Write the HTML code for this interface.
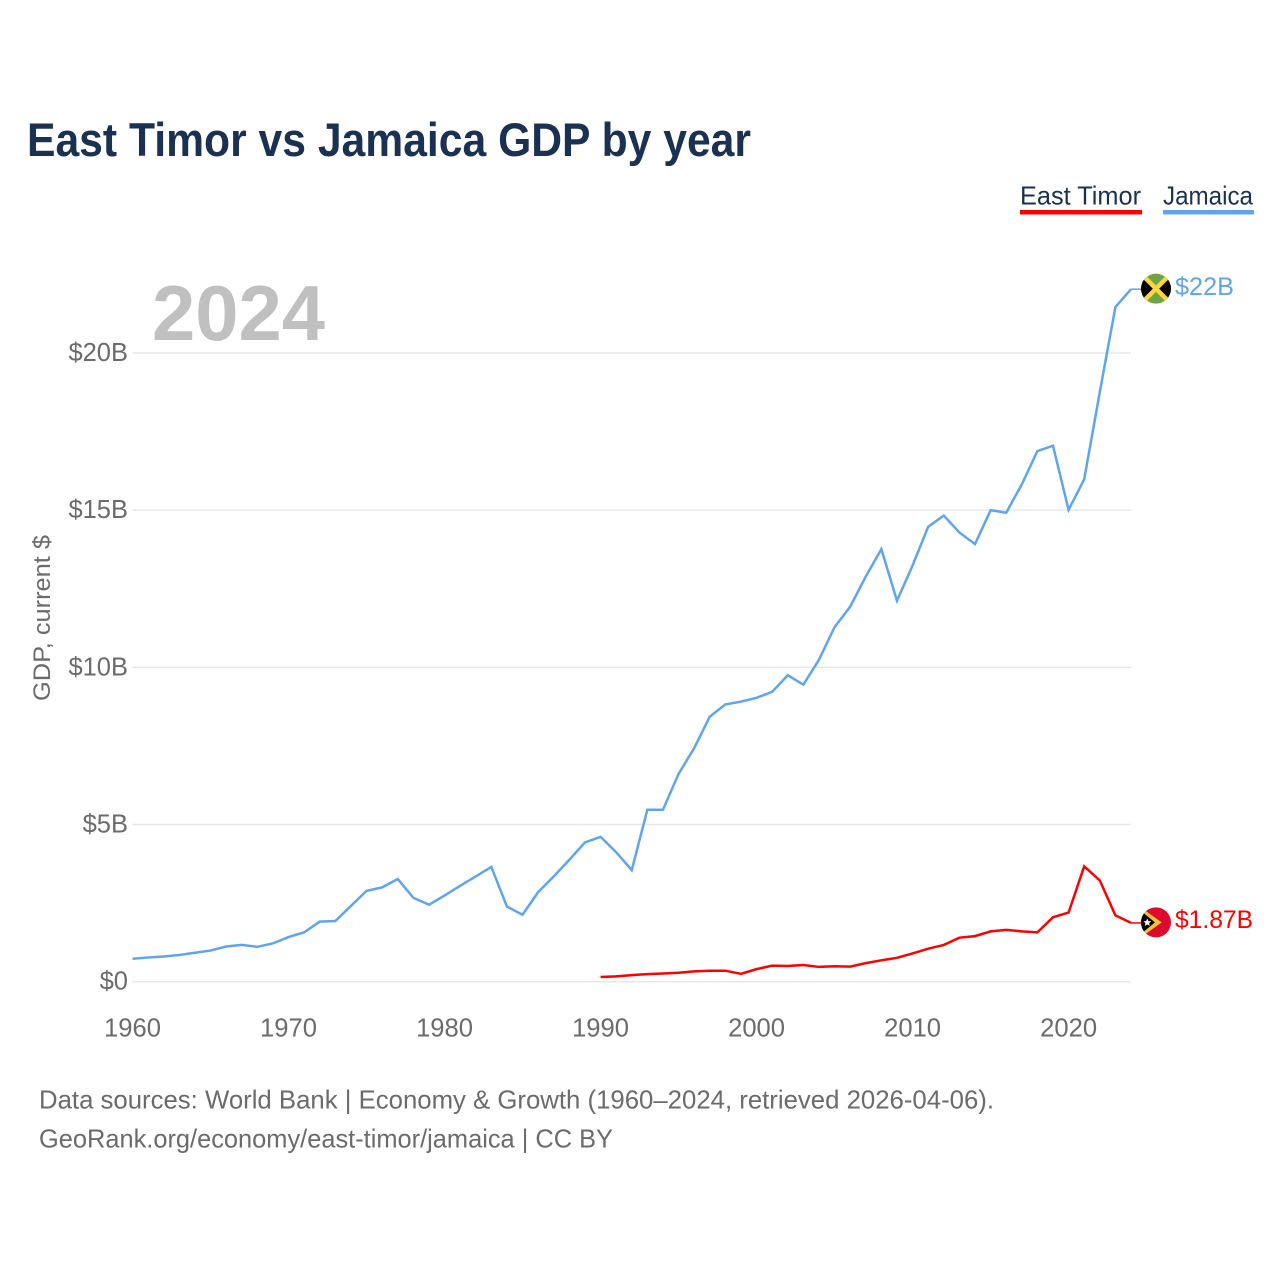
<!DOCTYPE html>
<html lang="en">
<head>
<meta charset="utf-8">
<title>East Timor vs Jamaica GDP by year</title>
<style>
html,body{margin:0;padding:0;background:#fff;width:1280px;height:1280px;overflow:hidden}
svg{display:block}
text{font-family:"Liberation Sans",sans-serif}
</style>
</head>
<body>
<svg id="chart" xmlns="http://www.w3.org/2000/svg" width="1280" height="1280" viewBox="0 0 1280 1280">
  <defs>
    <clipPath id="flag-clip"><circle cx="0" cy="0" r="15"/></clipPath>
  </defs>
  <rect width="1280" height="1280" fill="#fff"/>
  <text x="27" y="156" font-size="47" font-weight="700" fill="#1a3152" textLength="724" lengthAdjust="spacingAndGlyphs">East Timor vs Jamaica GDP by year</text>

  <g>
    <text x="1020" y="204.5" font-size="26" fill="#1a3152" textLength="121" lengthAdjust="spacingAndGlyphs">East Timor</text>
    <rect x="1020" y="210" width="122" height="4.5" fill="#ff0000"/>
  </g>
  <g>
    <text x="1163" y="204.5" font-size="26" fill="#1a3152" textLength="90" lengthAdjust="spacingAndGlyphs">Jamaica</text>
    <rect x="1163" y="210" width="91" height="4.5" fill="#60a5ec"/>
  </g>

  <text x="152" y="340" font-size="78" font-weight="700" fill="#c0c0c0" textLength="173" lengthAdjust="spacingAndGlyphs">2024</text>

  <text transform="translate(50,701) rotate(-90)" x="0" y="0" font-size="24" fill="#6b6b6b" textLength="166" lengthAdjust="spacingAndGlyphs">GDP, current $</text>

  <g id="grid"></g>
  <g id="yticks"></g>
  <g id="xticks"></g>
  <g id="series"></g>
  <g id="markers"></g>

  <text x="39" y="1108.5" font-size="26" fill="#6b6b6b" textLength="955" lengthAdjust="spacingAndGlyphs">Data sources: World Bank | Economy &amp; Growth (1960–2024, retrieved 2026-04-06).</text>
  <text x="39" y="1147.5" font-size="26" fill="#6b6b6b" textLength="574" lengthAdjust="spacingAndGlyphs">GeoRank.org/economy/east-timor/jamaica | CC BY</text>
</svg>
<script>
const years = [1960,1961,1962,1963,1964,1965,1966,1967,1968,1969,
  1970,1971,1972,1973,1974,1975,1976,1977,1978,1979,
  1980,1981,1982,1983,1984,1985,1986,1987,1988,1989,
  1990,1991,1992,1993,1994,1995,1996,1997,1998,1999,
  2000,2001,2002,2003,2004,2005,2006,2007,2008,2009,
  2010,2011,2012,2013,2014,2015,2016,2017,2018,2019,
  2020,2021,2022,2023,2024];
const jamaicaGdp = [0.73,0.77,0.80,0.85,0.92,0.99,1.12,1.17,1.11,1.22,
  1.42,1.57,1.91,1.93,2.41,2.89,3.00,3.27,2.67,2.45,
  2.74,3.05,3.35,3.65,2.39,2.13,2.85,3.35,3.88,4.43,
  4.61,4.12,3.55,5.47,5.47,6.61,7.43,8.43,8.82,8.91,
  9.03,9.22,9.75,9.45,10.24,11.28,11.93,12.89,13.76,12.12,
  13.24,14.47,14.83,14.29,13.92,15.00,14.92,15.82,16.88,17.05,
  15.01,15.98,18.76,21.46,22.03];
const eastTimorGdp = [null,null,null,null,null,null,null,null,null,null,
  null,null,null,null,null,null,null,null,null,null,
  null,null,null,null,null,null,null,null,null,null,
  0.15,0.17,0.21,0.24,0.26,0.285,0.33,0.35,0.35,0.25,
  0.40,0.51,0.50,0.53,0.47,0.49,0.48,0.59,0.68,0.76,
  0.90,1.05,1.17,1.40,1.45,1.60,1.65,1.60,1.57,2.05,
  2.20,3.67,3.22,2.11,1.87];
const xTickYears = [1960,1970,1980,1990,2000,2010,2020];
const xTickLabels = ["1960","1970","1980","1990","2000","2010","2020"];
const yTickValues = [0,5,10,15,20];
const yTickLabels = ["$0","$5B","$10B","$15B","$20B"];
const jamaicaEndLabel = "$22B";
const eastTimorEndLabel = "$1.87B";

const NS = "http://www.w3.org/2000/svg";
const plotLeft = 132.5, plotRight = 1131, plotBottom = 981.7, plotTop = 353;
const firstYear = years[0], lastYear = years[years.length - 1];
function xScale(year){ return plotLeft + (year - firstYear) * (plotRight - plotLeft) / (lastYear - firstYear); }
function yScale(v){ return plotBottom - v * (plotBottom - plotTop) / 20; }
function make(tag, attrs, parent){
  const el = document.createElementNS(NS, tag);
  for (const k in attrs) el.setAttribute(k, attrs[k]);
  if (parent) parent.appendChild(el);
  return el;
}
function linePoints(values){
  const pts = [];
  values.forEach(function(v, i){ if (v !== null) pts.push(xScale(years[i]).toFixed(2) + "," + yScale(v).toFixed(2)); });
  return pts.join(" ");
}

const grid = document.getElementById("grid");
const yticks = document.getElementById("yticks");
yTickValues.forEach(function(v, i){
  const ln = make("line", {x1: plotLeft, x2: plotRight, y1: yScale(v), y2: yScale(v), stroke: "#e8e8e8", "stroke-width": 1.5}, grid);
  
  
  const t = make("text", {x: 128, y: yScale(v) + 8, "text-anchor": "end", "font-size": 25.5, fill: "#6b6b6b"}, yticks);
  
  
  t.textContent = yTickLabels[i];
});

const xticks = document.getElementById("xticks");
xTickYears.forEach(function(yr, i){
  const t = make("text", {x: xScale(yr), y: 1036.5, "text-anchor": "middle", "font-size": 25.6, fill: "#6b6b6b"}, xticks);
  
  
  t.textContent = xTickLabels[i];
});

const series = document.getElementById("series");
const jamaicaLine = make("polyline", {points: linePoints(jamaicaGdp), fill: "none", stroke: "#60a5ec", "stroke-width": 2.5, "stroke-linejoin": "miter"}, series);


const timorLine = make("polyline", {points: linePoints(eastTimorGdp), fill: "none", stroke: "#ff0000", "stroke-width": 2.5, "stroke-linejoin": "miter"}, series);



const markers = document.getElementById("markers");
const endX = xScale(lastYear);
const flagX = endX + 25;

const jamaicaY = yScale(jamaicaGdp[jamaicaGdp.length - 1]);
const jamaicaConnector = make("line", {x1: endX, x2: flagX - 15, y1: jamaicaY, y2: jamaicaY, stroke: "#60a5ec", "stroke-width": 1.5}, markers);


const jamaicaFlag = make("g", {transform: "translate(" + flagX + "," + (jamaicaY - 0.5) + ")", "clip-path": "url(#flag-clip)"}, markers);


make("rect", {x: -16, y: -16, width: 32, height: 32, fill: "#6ea544"}, jamaicaFlag);
make("polygon", {points: "-16,-16 0,0 -16,16", fill: "#000"}, jamaicaFlag);
make("polygon", {points: "16,-16 0,0 16,16", fill: "#000"}, jamaicaFlag);
make("line", {x1: -15, y1: -15, x2: 15, y2: 15, stroke: "#fcd53f", "stroke-width": 4.5}, jamaicaFlag);
make("line", {x1: -15, y1: 15, x2: 15, y2: -15, stroke: "#fcd53f", "stroke-width": 4.5}, jamaicaFlag);
const jamaicaValue = make("text", {x: flagX + 19, y: jamaicaY + 6, "font-size": 25, fill: "#60a5ec", textLength: 59, lengthAdjust: "spacingAndGlyphs"}, markers);


jamaicaValue.textContent = jamaicaEndLabel;

const timorY = yScale(eastTimorGdp[eastTimorGdp.length - 1]);
const timorConnector = make("line", {x1: endX, x2: flagX - 15, y1: timorY, y2: timorY, stroke: "#ff0000", "stroke-width": 1.5}, markers);


const timorFlag = make("g", {transform: "translate(" + flagX + "," + (timorY - 0.5) + ")", "clip-path": "url(#flag-clip)"}, markers);


make("rect", {x: -16, y: -16, width: 32, height: 32, fill: "#dc0a2e"}, timorFlag);
make("polygon", {points: "-16,-15.5 5.7,0 -16,15.5", fill: "#fbc02d"}, timorFlag);
make("polygon", {points: "-16,-12.3 -1,0 -16,12.3", fill: "#000"}, timorFlag);
make("polygon", {points: "-8.7,-4 -7.6,-1.3 -4.8,-1.2 -6.9,0.7 -6.2,3.6 -8.7,2 -11.2,3.6 -10.5,0.7 -12.6,-1.2 -9.8,-1.3", fill: "#fff"}, timorFlag);
const timorValue = make("text", {x: flagX + 19, y: timorY + 5, "font-size": 25, fill: "#ff0000", textLength: 78, lengthAdjust: "spacingAndGlyphs"}, markers);


timorValue.textContent = eastTimorEndLabel;
</script>
</body>
</html>
